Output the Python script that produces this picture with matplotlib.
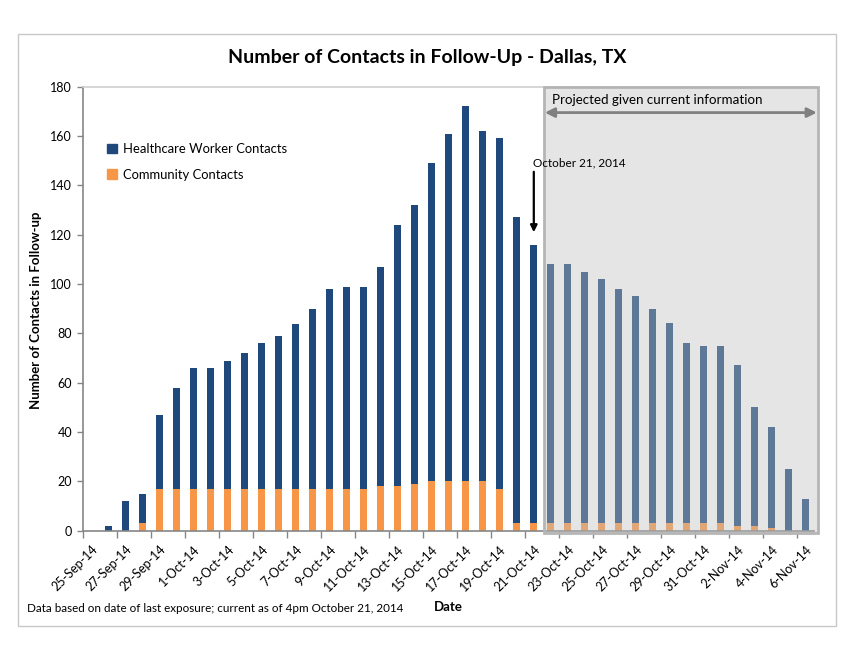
import matplotlib
matplotlib.use("Agg")
import matplotlib.pyplot as plt
from matplotlib.patches import Rectangle, Patch

plt.rcParams['font.family'] = ['Lato', 'DejaVu Sans']

dates = ["25-Sep-14", "26-Sep-14", "27-Sep-14", "28-Sep-14", "29-Sep-14", "30-Sep-14",
         "1-Oct-14", "2-Oct-14", "3-Oct-14", "4-Oct-14", "5-Oct-14", "6-Oct-14", "7-Oct-14",
         "8-Oct-14", "9-Oct-14", "10-Oct-14", "11-Oct-14", "12-Oct-14", "13-Oct-14",
         "14-Oct-14", "15-Oct-14", "16-Oct-14", "17-Oct-14", "18-Oct-14", "19-Oct-14",
         "20-Oct-14", "21-Oct-14", "22-Oct-14", "23-Oct-14", "24-Oct-14", "25-Oct-14",
         "26-Oct-14", "27-Oct-14", "28-Oct-14", "29-Oct-14", "30-Oct-14", "31-Oct-14",
         "1-Nov-14", "2-Nov-14", "3-Nov-14", "4-Nov-14", "5-Nov-14", "6-Nov-14"]

total = [0, 2, 12, 15, 47, 58, 66, 66, 69, 72, 76, 79, 84, 90, 98, 99, 99, 107, 124,
         132, 149, 161, 172, 162, 159, 127, 116, 108, 108, 105, 102, 98, 95, 90, 84,
         76, 75, 75, 67, 50, 42, 25, 13]
community = [0, 0, 0, 3, 17, 17, 17, 17, 17, 17, 17, 17, 17, 17, 17, 17, 17, 18, 18,
             19, 20, 20, 20, 20, 17, 3, 3, 3, 3, 3, 3, 3, 3, 3, 3, 3, 3, 3, 2, 2, 1, 0, 0]
healthcare = [t - c for t, c in zip(total, community)]

last_actual = "21-Oct-14"
yticks = list(range(0, 181, 20))

BLUE = "#1F497D"
ORANGE = "#F79646"
AXIS = "#868686"

W, H = 853, 654
fig = plt.figure(figsize=(W / 100, H / 100), dpi=100)

def fx(px):
    return px / W

def fy(py):
    return 1 - py / H

# outer chart border
fig.patches.append(Rectangle((fx(18.5), fy(625.5)), fx(836) - fx(18.5), fy(34) - fy(625.5),
                             transform=fig.transFigure, fill=False, edgecolor="#C8C8C8",
                             lw=1.0, zorder=0))

ax = fig.add_axes([fx(83.3), fy(530.7), fx(814.3) - fx(83.3), fy(86.7) - fy(530.7)])
x = list(range(len(dates)))
ax.bar(x, community, width=0.42, color=ORANGE, zorder=2)
ax.bar(x, healthcare, width=0.42, bottom=community, color=BLUE, zorder=2)

ax.set_xlim(-0.5, len(dates) - 0.5)
ax.set_ylim(0, 180)
ax.set_yticks(yticks)
ax.set_yticklabels([str(v) for v in yticks], fontsize=9)
ax.tick_params(axis='y', length=4, color=AXIS, width=1, pad=4)

ax.set_xticks(x[::2])
ax.set_xticklabels(dates[::2], rotation=45, ha='right', rotation_mode='anchor', fontsize=9)
ax.set_xticks([i - 0.5 for i in range(0, len(dates), 2)], minor=True)
ax.tick_params(axis='x', which='major', length=0, pad=9)
ax.tick_params(axis='x', which='minor', length=5, color=AXIS, width=1)

for s in ['left', 'bottom']:
    ax.spines[s].set_color(AXIS)
    ax.spines[s].set_linewidth(1.2)
ax.spines['top'].set_color("#D0D0D0")
ax.spines['top'].set_linewidth(1.2)
ax.spines['right'].set_visible(False)

# projection shading
idx = dates.index(last_actual)
x0 = idx + 0.6
x1 = len(dates) - 0.5 + 0.2
ax.add_patch(Rectangle((x0, -1), x1 - x0, 181, facecolor=(0.75, 0.75, 0.75, 0.4),
                       edgecolor="#B5B5B5", lw=2, zorder=3, clip_on=False))
ax.annotate("", xy=(x1 - 0.05, 169.5), xytext=(x0 + 0.05, 169.5),
            arrowprops=dict(arrowstyle="<|-|>", color="#808080", lw=2,
                            mutation_scale=14, shrinkA=0, shrinkB=0), zorder=4,
            annotation_clip=False)
ax.text(x0 + 0.5, 174.8, "Projected given current information", fontsize=9.6,
        va='center', ha='left', zorder=5)

# current date arrow
ax.annotate("", xy=(idx, 121), xytext=(idx, 145.5),
            arrowprops=dict(arrowstyle="-|>", color="black", lw=1.6,
                            mutation_scale=10, shrinkA=0, shrinkB=0), zorder=5)
ax.text(idx - 0.05, 149.2, "October 21, 2014", fontsize=8.5, va='center', ha='left', zorder=5)

ax.legend(handles=[Patch(color=BLUE, label="Healthcare Worker Contacts"),
                   Patch(color=ORANGE, label="Community Contacts")],
          loc='upper left', bbox_to_anchor=(fx(107), fy(143)), bbox_transform=fig.transFigure,
          frameon=False, fontsize=9.4, handlelength=0.75, handleheight=0.75,
          handletextpad=0.45, labelspacing=1.05, borderpad=0, borderaxespad=0)

fig.text(fx(427), fy(57), "Number of Contacts in Follow-Up - Dallas, TX", fontsize=14,
         fontweight='bold', ha='center', va='center')
fig.text(fx(36), fy(310), "Number of Contacts in Follow-up", fontsize=9.5, fontweight='bold',
         rotation=90, ha='center', va='center')
fig.text(fx(448), fy(607), "Date", fontsize=9.5, fontweight='bold', ha='center', va='center')
fig.text(fx(27), fy(609), "Data based on date of last exposure; current as of 4pm October 21, 2014",
         fontsize=8.35, ha='left', va='center')

fig.savefig("out.png", dpi=100)
